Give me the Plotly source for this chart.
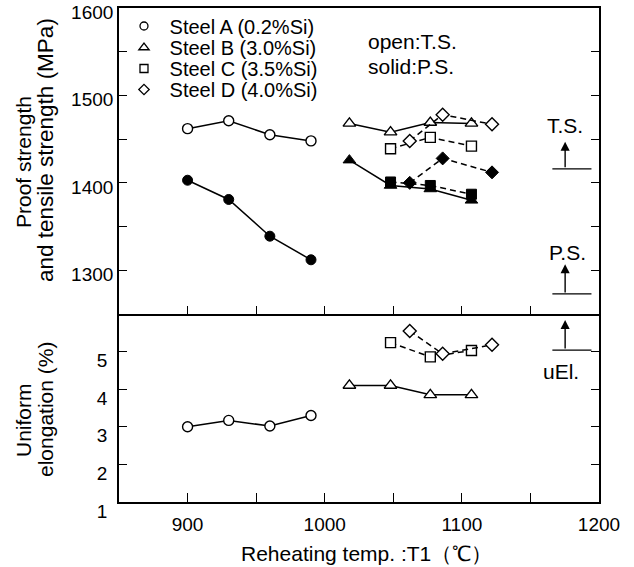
import plotly.graph_objects as go

# ---------------- data ----------------
steel_names = ["Steel A (0.2%Si)", "Steel B (3.0%Si)", "Steel C (3.5%Si)", "Steel D (4.0%Si)"]
steel_symbols = ["circle", "triangle-up", "square", "diamond"]

steelA_T = [900, 930, 960, 990]
steelA_TS = [1462, 1471, 1455, 1448]
steelA_PS = [1403, 1381, 1339, 1312]
steelA_uEl = [3.0, 3.17, 3.02, 3.3]

steelB_T = [1018, 1048, 1077, 1107]
steelB_TS = [1468, 1458, 1469, 1468]
steelB_PS = [1426, 1397, 1393, 1380]
steelB_uEl = [4.1, 4.1, 3.85, 3.85]

steelC_T = [1048, 1077, 1107]
steelC_TS = [1439, 1452, 1442]
steelC_PS = [1401, 1397, 1387]
steelC_uEl = [5.24, 4.86, 5.03]

steelD_T = [1062, 1086, 1122]
steelD_TS = [1448, 1478, 1467]
steelD_PS = [1400, 1428, 1412]
steelD_uEl = [5.55, 4.94, 5.18]

x_ticks = [900, 950, 1000, 1050, 1100, 1150, 1200]
x_ticktext = ["900", "", "1000", "", "1100", "", "1200"]
ys_ticks = [1300, 1350, 1400, 1450, 1500, 1550, 1600]
ys_ticktext = ["1300", "", "1400", "", "1500", "", "1600"]
ye_ticks = [1, 2, 3, 4, 5]
ye_ticktext = ["1", "2", "3", "4", "5"]

FONT = "Liberation Sans, Arial, Helvetica, sans-serif"
BLACK = "black"

fig = go.Figure()

series = [
    (steelA_T, steelA_TS, steelA_PS, steelA_uEl, "solid"),
    (steelB_T, steelB_TS, steelB_PS, steelB_uEl, "solid"),
    (steelC_T, steelC_TS, steelC_PS, steelC_uEl, "6px,4px"),
    (steelD_T, steelD_TS, steelD_PS, steelD_uEl, "6px,4px"),
]

msize = {"circle": 10, "triangle-up": 11, "square": 10, "diamond": 10}

for i, (T, TS, PS, uEl, dash) in enumerate(series):
    sym = steel_symbols[i]
    fig.add_trace(go.Scatter(
        x=T, y=PS, xaxis="x2", yaxis="y2", mode="lines+markers",
        line=dict(color=BLACK, width=1.5, dash=dash),
        marker=dict(symbol=sym, size=msize[sym], color=BLACK, line=dict(color=BLACK, width=1)),
        showlegend=False))
    fig.add_trace(go.Scatter(
        x=T, y=TS, xaxis="x2", yaxis="y2", mode="lines+markers",
        line=dict(color=BLACK, width=1.5, dash=dash),
        marker=dict(symbol=sym, size=msize[sym], color="white", line=dict(color=BLACK, width=1.4)),
        showlegend=False))
    fig.add_trace(go.Scatter(
        x=T, y=uEl, xaxis="x", yaxis="y", mode="lines+markers",
        line=dict(color=BLACK, width=1.5, dash=dash),
        marker=dict(symbol=sym, size=msize[sym], color="white", line=dict(color=BLACK, width=1.4)),
        showlegend=False))

PLOT_TOP, PLOT_BOT = 8, 502
H = PLOT_BOT - PLOT_TOP
legend_rows_px = [26, 47.5, 68.5, 89.5]
legend_keys = ["legend", "legend2", "legend3", "legend4"]
for i, name in enumerate(steel_names):
    sym = steel_symbols[i]
    fig.add_trace(go.Scatter(
        x=[None], y=[None], xaxis="x2", yaxis="y2", mode="markers", name="\u00a0" + name,
        marker=dict(symbol=sym, size=msize[sym] - 2, color="white", line=dict(color=BLACK, width=1.3)),
        legend=legend_keys[i], showlegend=True))

layout_legends = {}
for i, key in enumerate(legend_keys):
    layout_legends[key] = dict(
        x=0.0104, xanchor="left",
        y=(PLOT_BOT - legend_rows_px[i]) / H, yanchor="middle",
        font=dict(family=FONT, size=20, color=BLACK),
        bgcolor="rgba(0,0,0,0)", borderwidth=0, itemwidth=30)

axis_common = dict(
    showgrid=False, zeroline=False, showline=True, linecolor=BLACK, linewidth=1.6,
    ticks="inside", tickcolor=BLACK, tickwidth=1.4, automargin=False,
    tickfont=dict(family=FONT, size=19, color=BLACK),
)

split = (PLOT_BOT - 314) / H

fig.update_layout(
    width=634, height=567,
    margin=dict(l=119, r=35, t=PLOT_TOP, b=567 - PLOT_BOT, autoexpand=False),
    paper_bgcolor="white", plot_bgcolor="white",
    font=dict(family=FONT, size=19, color=BLACK),
    xaxis=dict(axis_common, domain=[0, 1], range=[850, 1200], anchor="y", mirror=False,
               tickmode="array", tickvals=x_ticks, ticktext=x_ticktext, ticklen=9,
               ticklabelstandoff=4),
    xaxis2=dict(axis_common, domain=[0, 1], range=[850, 1200], anchor="y2", mirror=True,
                matches="x", tickmode="array", tickvals=x_ticks, ticktext=x_ticktext,
                showticklabels=False, ticklen=8),
    yaxis=dict(axis_common, domain=[0, split], range=[1, 6], anchor="x", mirror="ticks",
               tickmode="array", tickvals=ye_ticks, ticktext=ye_ticktext, ticklen=8,
               ticklabelshift=9, ticklabelstandoff=6),
    yaxis2=dict(axis_common, domain=[split, 1], range=[1250, 1600], anchor="x2", mirror="ticks",
                tickmode="array", tickvals=ys_ticks, ticktext=ys_ticktext, ticklen=8,
                ticklabelshift=4, ticklabeloverflow="allow"),
    **layout_legends,
)

ann = []
def px_x(px):
    return (px - 119) / 480.0
def px_y(py):
    return (PLOT_BOT - py) / H

ann.append(dict(text="Reheating temp. :T1（℃）", xref="paper", yref="paper",
                x=px_x(366), y=px_y(553), xanchor="center", yanchor="middle",
                showarrow=False, font=dict(size=21)))
for txt, cx, cy, fs in [("Proof strength", 23, 162, 21), ("and tensile strength (MPa)", 45, 150, 22.5),
                        ("Uniform", 23, 420, 21), ("elongation (%)", 45, 410, 21)]:
    ann.append(dict(text=txt, xref="paper", yref="paper", x=px_x(cx), y=px_y(cy),
                    xanchor="center", yanchor="middle", textangle=-90, showarrow=False,
                    font=dict(size=fs)))

ann.append(dict(text="open:T.S.", xref="paper", yref="paper", x=px_x(366), y=px_y(42),
                xanchor="left", yanchor="middle", showarrow=False, font=dict(size=21)))
ann.append(dict(text="solid:P.S.", xref="paper", yref="paper", x=px_x(366), y=px_y(67),
                xanchor="left", yanchor="middle", showarrow=False, font=dict(size=21)))

ann.append(dict(text="T.S.", xref="x2", yref="y2", x=1175, y=1466, showarrow=False,
                xanchor="center", yanchor="middle", font=dict(size=21)))
ann.append(dict(text="P.S.", xref="x2", yref="y2", x=1177, y=1320, showarrow=False,
                xanchor="center", yanchor="middle", font=dict(size=21)))
ann.append(dict(text="uEl.", xref="x", yref="y", x=1172, y=4.46, showarrow=False,
                xanchor="center", yanchor="middle", font=dict(size=21)))

for xr, yr, base, tip in [("x2", "y2", 1416, 1447), ("x2", "y2", 1273, 1307), ("x", "y", 5.04, 5.84)]:
    ann.append(dict(text="", xref=xr, yref=yr, axref=xr, ayref=yr,
                    x=1175.3, y=tip, ax=1175.3, ay=base, showarrow=True,
                    arrowhead=2, arrowsize=1.3, arrowwidth=1.4, arrowcolor=BLACK))

shapes = []
for xr, yr, yv in [("x2", "y2", 1416), ("x2", "y2", 1273), ("x", "y", 5.04)]:
    shapes.append(dict(type="line", xref=xr, yref=yr, x0=1166, x1=1194.5, y0=yv, y1=yv,
                       line=dict(color=BLACK, width=1.4)))

fig.update_layout(annotations=ann, shapes=shapes)

fig.write_html("out.html", config={"displayModeBar": False},
               post_script="document.body.style.margin='0';")
